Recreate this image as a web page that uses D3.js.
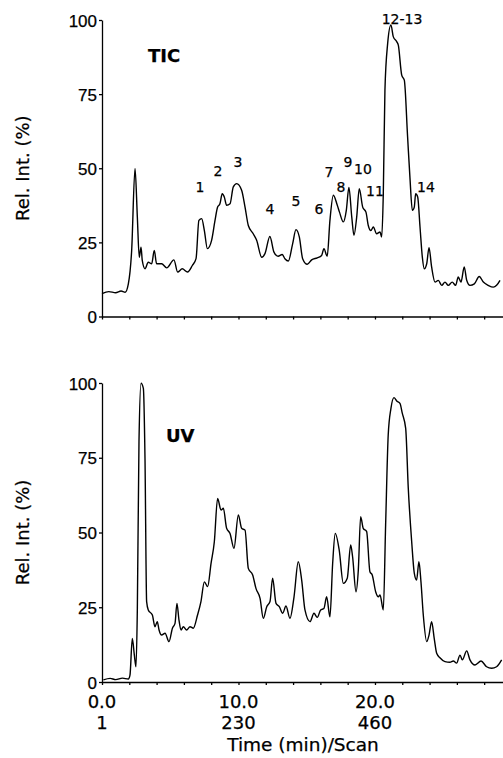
<!DOCTYPE html>
<html>
<head>
<meta charset="utf-8">
<script src="https://cdn.jsdelivr.net/npm/d3@7"></script>
<style>
  body { margin: 0; background: #fff; }
  svg { display: block; font-family: "DejaVu Sans", sans-serif; }
  svg text { fill: #000; stroke: #000; stroke-width: 0.25; }
  .axis path, .axis line { stroke: #000; stroke-width: 1.3; }
  .axis text { font-size: 17px; }
</style>
</head>
<body>
<svg id="chart" width="503" height="758"></svg>
<script>
// TIC trace (time in min, relative intensity %)
var ticTime = [0,0.5,1.0,1.4,1.7,1.93,2.17,2.42,2.59,2.73,
  2.86,2.95,3.15,3.39,3.64,3.83,4.0,4.37,4.74,5.27,
  5.54,5.88,6.27,6.62,6.89,7.1,7.3,7.5,7.72,8.03,
  8.28,8.47,8.64,8.81,8.96,9.13,9.38,9.62,9.87,10.23,
  10.48,10.72,11.08,11.33,11.7,11.94,12.3,12.6,12.9,13.2,
  13.4,13.65,13.97,14.21,14.46,14.7,15.04,15.36,15.77,16.09,
  16.26,16.5,16.7,16.95,17.24,17.4,17.68,17.9,18.09,18.3,
  18.46,18.66,18.85,19.1,19.34,19.51,19.7,19.88,20.12,20.37,
  20.49,20.61,20.73,20.93,21.17,21.34,21.59,21.71,21.96,22.15,
  22.39,22.56,22.74,22.88,22.98,23.13,23.3,23.47,23.61,23.79,
  23.96,24.15,24.4,24.64,24.89,25.13,25.37,25.66,25.91,26.1,
  26.3,26.54,26.72,26.96,27.28,27.64,27.94,28.3,28.67,28.91,
  29.16];
var ticRel = [7.7,8.4,8.0,8.6,8.2,11,22,49.9,33.5,20,
  23.4,18.9,16.1,18.3,17.8,22.3,17.8,17.8,16.4,19.1,
  15,16.1,15,17.2,19.5,32.4,33,29,22.9,25.7,
  32.4,36.9,38,41.4,40.3,37.5,38,43.7,44.8,42.6,
  36.9,30.7,27.9,25.7,20,21.2,27,21.7,20.3,20.9,
  19.5,18.7,24.6,29.3,26.8,19.5,17.6,19.1,19.8,20.6,
  22.9,20.3,32.4,40.9,37.5,35.2,31.9,35.8,43.5,33.5,
  27.4,33.5,43.1,36.9,35.2,30.7,29,30.2,27.9,28.5,
  26.8,41.4,76.4,92.1,98.3,94.4,92.7,91.5,81.4,79.7,
  60.6,47,35.8,36.9,41.4,40.3,30.2,20,16.1,17.8,
  23.2,16.7,11.6,12.2,10.5,11.6,10.5,11.6,10.5,13.3,
  11.6,16.7,12.2,10.5,11,13.5,11.6,10.5,9.9,10.5,
  12.2];

// UV trace
var uvTime = [0.1,0.6,1.0,1.5,1.93,2.05,2.22,2.37,2.49,2.59,
  2.71,2.86,3.03,3.15,3.27,3.39,3.69,3.88,4.05,4.18,
  4.37,4.62,4.91,5.16,5.35,5.49,5.64,5.79,5.96,6.2,
  6.45,6.69,7.0,7.25,7.5,7.74,7.99,8.23,8.47,8.72,
  8.89,9.13,9.38,9.67,9.99,10.23,10.48,10.72,11.04,11.28,
  11.58,11.82,12.07,12.31,12.5,12.75,12.99,13.24,13.48,13.77,
  14.07,14.38,14.63,14.87,15.24,15.53,15.77,16.02,16.26,16.46,
  16.7,16.9,17.09,17.38,17.68,17.97,18.22,18.36,18.61,18.78,
  18.95,19.14,19.39,19.63,19.8,20.05,20.25,20.37,20.61,20.78,
  20.97,21.17,21.39,21.59,21.83,22.0,22.25,22.44,22.69,22.88,
  23.05,23.22,23.37,23.54,23.79,23.96,24.15,24.34,24.52,24.76,
  25.13,25.49,25.74,25.98,26.23,26.4,26.72,26.96,27.33,27.77,
  28.18,28.55,28.91,29.28];
var uvRel = [0.7,1.2,0.8,1.3,1,2.3,14.6,9,5.1,24.7,
  80.4,99.9,98.2,74.8,26.9,24.1,22.4,18.5,20.2,17.4,
  15.7,16.3,13.5,18,19.6,26.3,20.7,17.4,18.5,17.4,
  18.5,18,22.4,26.9,33.5,31.9,39.7,46.9,61.4,57.5,
  58.1,51.4,49.7,44.7,55.9,51.4,50.8,38,35.8,31.3,
  28,21.3,25.2,26.9,34.7,26.3,25.2,23,25.4,21.3,
  28.5,40.2,34.1,24.1,20.2,23,21.6,24.1,24.6,28.5,
  21.8,39.7,49.7,44.1,33,34.7,45.8,41.9,30.2,37.5,
  55.3,51.4,50.3,36.9,35.8,30.2,28.5,29.1,24.1,52.5,
  82.6,91.5,95.1,94,93.2,89.9,84.8,64.8,46.9,36.4,
  34.1,40.2,33.5,22.4,13.5,15.7,20.2,14.6,9.6,8.1,
  6.8,6.6,7,6.3,9,7.4,10.4,7.4,5.7,7,
  5.1,4.6,5.1,7.4];

// peak labels on the TIC trace (label centre in data units)
var peakNames = ["1","2","3","4","5","6","7","8","9","10","11","12-13","14"];
var peakTime  = [7.18,8.5,9.96,12.31,14.21,15.9,16.63,17.51,18.02,19.12,20.0,21.98,23.74];
var peakRel   = [43.7,49.1,52.2,36.3,39,36.3,48.8,43.7,52.2,49.8,42.4,100.2,43.7];

var yTicks = [0,25,50,75,100];
var xLabelAt = [0,10,20];
var xLabelTime = ["0.0","10.0","20.0"];
var xLabelScan = ["1","230","460"];

var svg = d3.select("#chart");

var x = d3.scaleLinear().domain([0, 29.38]).range([102, 503]);
var yTop = d3.scaleLinear().domain([0, 100]).range([316.5, 20]);
var yBot = d3.scaleLinear().domain([0, 100]).range([682, 383]);

function panel(yScale, times, vals, name, nameX, nameY) {
  var g = svg.append("g");

  g.append("g")
    .attr("class", "axis")
    .attr("transform", "translate(0," + yScale(0) + ")")
    .call(d3.axisBottom(x).tickValues(d3.range(0, 30, 2)).tickSize(3).tickSizeOuter(0).tickFormat(""));

  g.append("g")
    .attr("class", "axis")
    .attr("transform", "translate(" + x(0) + ",0)")
    .call(d3.axisLeft(yScale).tickValues(yTicks).tickSize(3).tickSizeOuter(0).tickPadding(2))
    .selectAll("text").attr("dy", "0.36em");

  var line = d3.line()
    .x(function(d, i) { return x(times[i]); })
    .y(function(d) { return yScale(d); })
    .curve(d3.curveMonotoneX);

  g.append("path")
    .datum(vals)
    .attr("fill", "none")
    .attr("stroke", "#000")
    .attr("stroke-width", 1.4)
    .attr("stroke-linejoin", "round")
    .attr("d", line);

  g.append("text")
    .attr("x", nameX).attr("y", nameY)
    .style("font-size", "18px").style("font-weight", "bold")
    .text(name);

  g.append("text")
    .attr("transform", "translate(29," + yScale(50) + ") rotate(-90)")
    .attr("text-anchor", "middle")
    .style("font-size", "18px")
    .text("Rel. Int. (%)");
  return g;
}

panel(yTop, ticTime, ticRel, "TIC", 148, 62);
panel(yBot, uvTime, uvRel, "UV", 166, 442);

// peak numbers
svg.selectAll(".peak")
  .data(peakNames)
  .enter().append("text")
  .attr("class", "peak")
  .attr("x", function(d, i) { return x(peakTime[i]); })
  .attr("y", function(d, i) { return yTop(peakRel[i]); })
  .attr("dy", "0.36em")
  .attr("text-anchor", "middle")
  .style("font-size", "14px")
  .text(function(d) { return d; });

// x labels: time and scan
svg.selectAll(".xt")
  .data(xLabelTime)
  .enter().append("text")
  .attr("x", function(d, i) { return x(xLabelAt[i]); })
  .attr("y", 708)
  .attr("text-anchor", "middle")
  .style("font-size", "18px")
  .text(function(d) { return d; });

svg.selectAll(".xs")
  .data(xLabelScan)
  .enter().append("text")
  .attr("x", function(d, i) { return x(xLabelAt[i]); })
  .attr("y", 729)
  .attr("text-anchor", "middle")
  .style("font-size", "18px")
  .text(function(d) { return d; });

svg.append("text")
  .attr("x", 303).attr("y", 751)
  .attr("text-anchor", "middle")
  .style("font-size", "18.5px")
  .text("Time (min)/Scan");
</script>
</body>
</html>
